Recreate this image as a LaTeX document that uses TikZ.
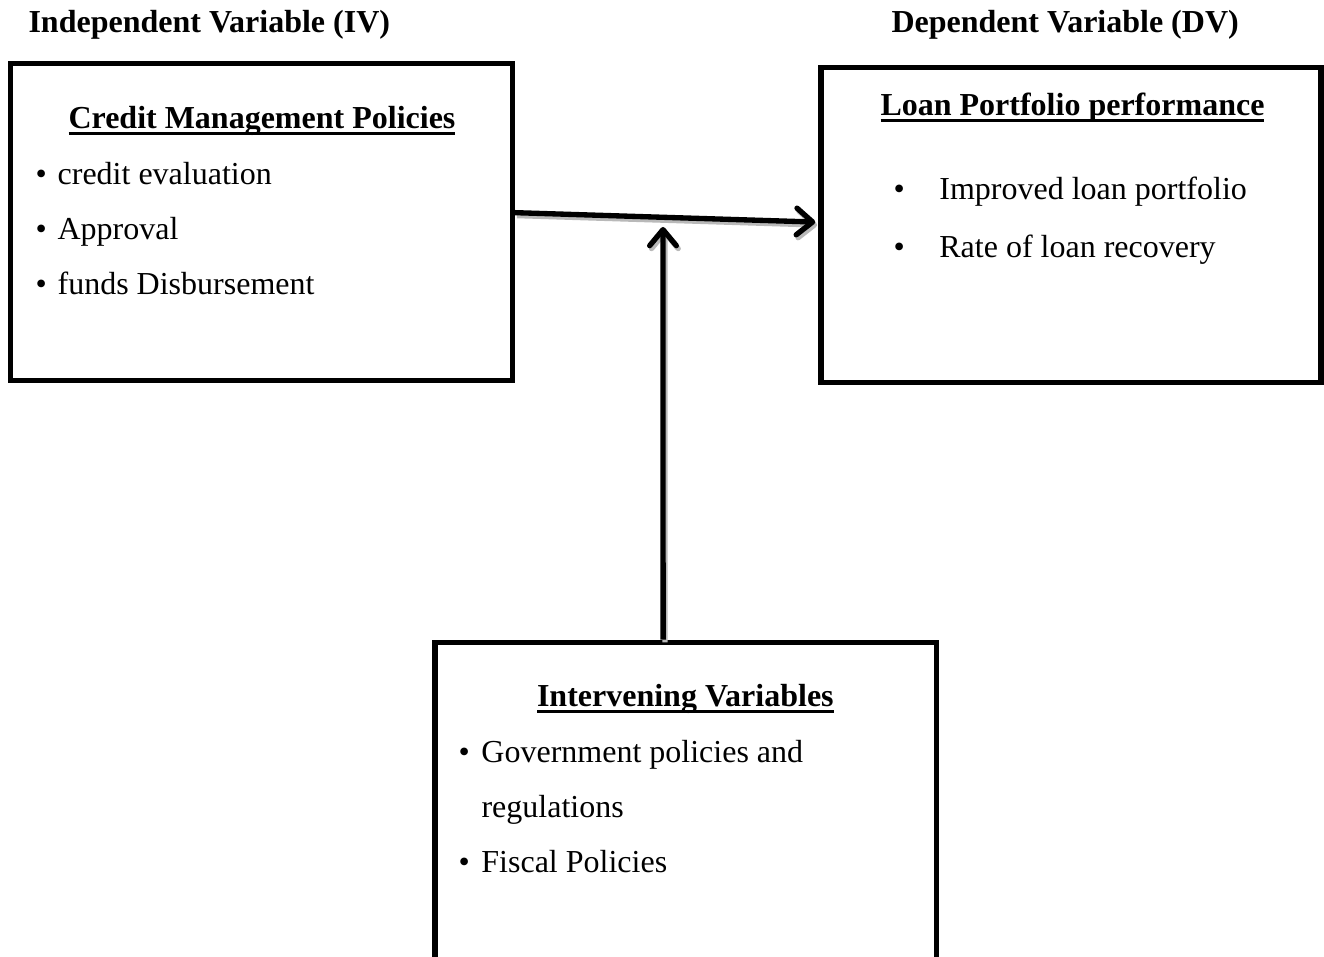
\documentclass[tikz,border=0pt,12pt]{standalone}
\usepackage{fontspec}
\setmainfont{Liberation Serif}
\usetikzlibrary{arrows.meta,positioning}

\newsavebox\ulbox
\newcommand\ulin[1]{\sbox\ulbox{#1}\rlap{\rule[-2.2pt]{\wd\ulbox}{1.1pt}}\usebox\ulbox}
\newcommand\itm[2][8.3pt]{\makebox[#1][l]{\textbullet}#2}

\begin{document}
\begin{tikzpicture}[x=0.375pt, y=-0.375pt,
    varbox/.style={rectangle, draw, line width=1.9pt, inner sep=0pt},
    txt/.style={anchor=base west, inner sep=0pt, font=\fontsize{12pt}{14pt}\selectfont},
    head/.style={txt, font=\fontsize{12pt}{14pt}\selectfont\bfseries},
    arr/.style={line width=2pt, -{Straight Barb[length=6pt,width=10pt,round]},
        preaction={draw=gray!55, line width=2pt, transform canvas={shift={(0.7pt,-1.1pt)}}}}]

    \useasboundingbox (0,0) rectangle (1324,957);

    % headings
    \node[head] (IV) at (28,33) {Independent Variable (IV)};
    \node[head] (DV) at (891,33) {Dependent Variable (DV)};

    % boxes
    \node[varbox, minimum width=188.2pt, minimum height=118.9pt] (CM) at (261.5,222) {};
    \node[varbox, minimum width=187.5pt, minimum height=118.1pt] (LP) at (1071,225) {};
    \node[varbox, minimum width=187.9pt, minimum height=134.2pt] (IVar) at (685.5,821) {};

    % credit management
    \node[head] (CMt) at (68,129) {\ulin{Credit Management Policies}};
    \node[txt] (C1) at (35,185) {\itm{credit evaluation}};
    \node[txt] (C2) at (35,240) {\itm{Approval}};
    \node[txt] (C3) at (35,295) {\itm{funds Disbursement}};

    % loan portfolio
    \node[head] (LPt) at (880,116) {\ulin{Loan Portfolio performance}};
    \node[txt] (L1) at (893,200) {\itm[17.2pt]{Improved loan portfolio}};
    \node[txt] (L2) at (893,258) {\itm[17.2pt]{Rate of loan recovery}};

    % intervening
    \node[head] (IVt) at (536.5,707) {\ulin{Intervening Variables}};
    \node[txt] (V1) at (458,763) {\itm[8.6pt]{Government policies and}};
    \node[txt] (V1b) at (481,818) {regulations};
    \node[txt] (V2) at (458,873) {\itm[8.6pt]{Fiscal Policies}};

    \coordinate (meet) at (663,227);
    \draw[arr] ([yshift=3.5pt]CM.east) -- ([yshift=1.1pt,xshift=-1.2pt]LP.west);
    \draw[arr] ([xshift=-8.4pt]IVar.north) -- (meet);
\end{tikzpicture}
\end{document}
